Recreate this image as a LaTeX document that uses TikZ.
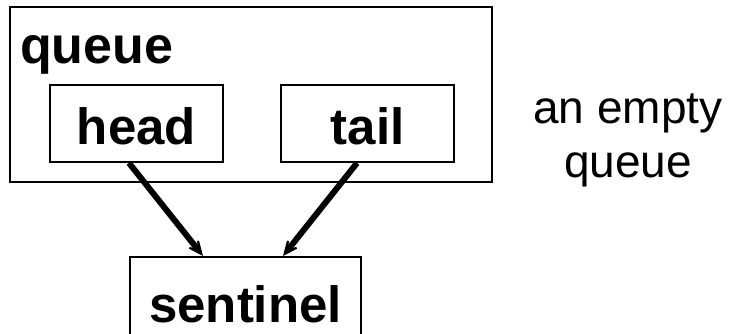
\documentclass[tikz,border=0pt]{standalone}
\usepackage{fontspec}
\setmainfont{Liberation Sans}
\usetikzlibrary{arrows.meta,calc}

\tikzset{
  frame/.style={draw=black, line width=2pt, inner sep=0pt},
  boxed/.style={frame, font=\bfseries\fontsize{51}{60}\selectfont},
  link/.style={draw=black, line width=6pt,
    -{Stealth[length=27pt, width=24pt, inset=19pt]}},
  caption/.style={font=\fontsize{46}{54}\selectfont, inner sep=0pt, anchor=base}
}

\begin{document}
\begin{tikzpicture}[x=1pt, y=-1pt]
  \useasboundingbox (0,0) rectangle (730,333);

  % the queue record with its two pointer fields
  \node[frame, minimum width=482pt, minimum height=175pt] (queuebox) at (251,94) {};
  \node[font=\bfseries\fontsize{52}{60}\selectfont, inner sep=0pt, anchor=base west]
    (queuelabel) at (20,63) {queue};
  \node[boxed, minimum width=173pt, minimum height=77pt,
        text height=41pt, text depth=0pt] (head) at (136.5,123.5) {head};
  \node[boxed, minimum width=173pt, minimum height=77pt,
        text height=41pt, text depth=0pt] (tail) at (367.5,123.5) {tail};

  % the sentinel node both pointers refer to
  \node[boxed, minimum width=231pt, minimum height=90pt,
        text height=40pt, text depth=0pt] (sentinel) at (245.5,302) {sentinel};

  % pointers
  \draw[link] ($(head.south)+(-7.5,0)$) -- ($(sentinel.north)+(-42.5,0)$);
  \draw[link] ($(tail.south)+(-10.5,0)$) -- ($(sentinel.north)+(37.5,0)$);

  % caption
  \node[caption] (captionA) at (628,123) {an empty};
  \node[caption] (captionB) at (628,177) {queue};
\end{tikzpicture}
\end{document}
